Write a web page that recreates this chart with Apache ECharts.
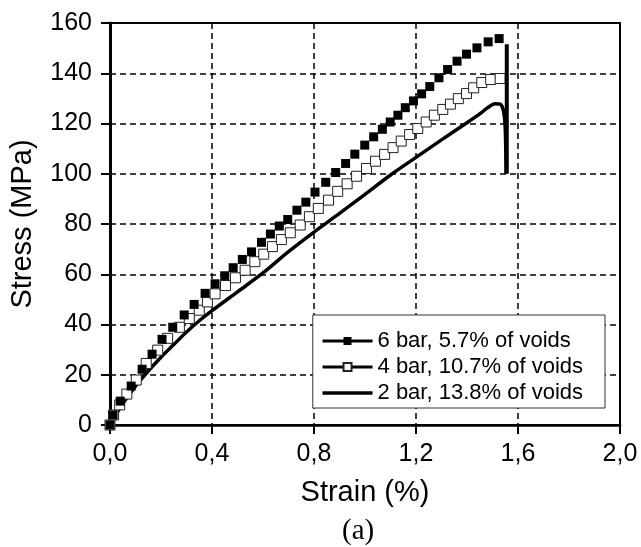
<!DOCTYPE html>
<html>
<head>
<meta charset="utf-8">
<script src="https://cdn.jsdelivr.net/npm/echarts@6/dist/echarts.min.js"></script>
<style>html,body{margin:0;padding:0;background:#fff;}#c{width:641px;height:547px;}</style>
</head>
<body>
<div id="c"></div>
<script>
// ---- data (strain %, stress MPa) ----
const seriesNames = ['6 bar, 5.7% of voids', '4 bar, 10.7% of voids', '2 bar, 13.8% of voids'];
const xTickLabels = ['0,0', '0,4', '0,8', '1,2', '1,6', '2,0'];
const yTickLabels = ['0', '20', '40', '60', '80', '100', '120', '140', '160'];

const strain6 = [0, 0.012, 0.040, 0.083, 0.126, 0.165, 0.204, 0.246, 0.291, 0.330, 0.373, 0.412, 0.450, 0.483, 0.519, 0.555, 0.594, 0.629, 0.664, 0.697, 0.733, 0.768, 0.804, 0.846, 0.885, 0.924, 0.960, 0.999, 1.034, 1.068, 1.099, 1.129, 1.158, 1.190, 1.222, 1.254, 1.290, 1.324, 1.361, 1.398, 1.439, 1.483, 1.526];
const stress6 = [0, 4.0, 9.5, 15.5, 22.2, 28.2, 34.1, 38.9, 43.8, 48.0, 52.4, 56.2, 59.4, 62.6, 65.9, 68.9, 72.7, 76.0, 79.2, 81.8, 85.5, 88.7, 92.7, 96.6, 100.5, 104.1, 107.8, 111.4, 114.7, 117.7, 120.6, 123.3, 126.3, 129.0, 131.8, 134.7, 138.2, 141.5, 144.8, 147.6, 150.1, 152.5, 153.8];

const strain4 = [0, 0.014, 0.038, 0.066, 0.103, 0.142, 0.187, 0.226, 0.272, 0.311, 0.350, 0.382, 0.412, 0.453, 0.492, 0.530, 0.568, 0.603, 0.637, 0.672, 0.707, 0.746, 0.782, 0.817, 0.857, 0.893, 0.930, 0.967, 1.006, 1.041, 1.077, 1.110, 1.142, 1.175, 1.207, 1.240, 1.272, 1.305, 1.335, 1.366, 1.398, 1.426, 1.458, 1.493, 1.530];
const stress4 = [0, 4.0, 8.0, 12.3, 17.9, 24.5, 29.8, 34.5, 38.9, 42.4, 45.7, 49.0, 52.2, 55.5, 58.6, 61.6, 65.0, 68.0, 71.0, 73.8, 76.5, 79.6, 82.9, 86.2, 89.5, 93.0, 96.0, 99.0, 102.1, 105.0, 107.7, 110.4, 113.0, 115.6, 118.0, 120.6, 123.3, 125.6, 127.7, 129.9, 131.9, 134.2, 136.3, 137.5, 137.9];

const strain2 = [0, 0.05, 0.10, 0.15, 0.20, 0.25, 0.30, 0.35, 0.40, 0.50, 0.60, 0.70, 0.80, 0.90, 1.00, 1.10, 1.20, 1.30, 1.40, 1.45, 1.48, 1.51, 1.53, 1.543, 1.550, 1.553];
const stress2 = [0, 8.5, 15.5, 21.5, 27.0, 32.0, 37.0, 41.5, 45.5, 53.0, 60.5, 69.0, 76.8, 84.2, 91.8, 99.5, 106.5, 113.5, 120.3, 123.8, 126.2, 127.9, 127.7, 125.0, 118.0, 100.0];

// failure drop (specimens break at ~1.556 % strain)
const failStrain = [1.556, 1.556];
const failStress = [151.5, 100];

const pairs = (xs, ys) => xs.map((x, i) => [x, ys[i]]);

const FONT = '"Liberation Sans", Arial, sans-serif';
const chart = echarts.init(document.getElementById('c'), null, { renderer: 'canvas' });
chart.setOption({
  animation: false,
  backgroundColor: '#fff',
  grid: { left: 107, right: 21, top: 23, bottom: 122, show: true, borderColor: '#000', borderWidth: 2, backgroundColor: 'transparent' },
  xAxis: {
    type: 'value', min: 0, max: 2.0, interval: 0.4,
    name: 'Strain (%)', nameLocation: 'middle', nameGap: 53,
    nameTextStyle: { fontFamily: FONT, fontSize: 29, color: '#000' },
    axisLine: { show: true, onZero: false, lineStyle: { color: '#000', width: 2.5 } },
    axisTick: { show: true, length: 9, lineStyle: { color: '#000', width: 2 } },
    axisLabel: { fontFamily: FONT, fontSize: 25, color: '#000', margin: 17,
      formatter: (v) => xTickLabels[Math.round(v / 0.4)] },
    splitLine: { show: true, lineStyle: { color: '#000', width: 1.5, type: [6, 4] } }
  },
  yAxis: {
    type: 'value', min: 0, max: 160, interval: 20,
    name: 'Stress (MPa)', nameLocation: 'middle', nameGap: 73,
    nameTextStyle: { fontFamily: FONT, fontSize: 29, color: '#000' },
    axisLine: { show: true, onZero: false, lineStyle: { color: '#000', width: 3 } },
    axisTick: { show: true, length: 9, lineStyle: { color: '#000', width: 2 } },
    axisLabel: { fontFamily: FONT, fontSize: 25, color: '#000', margin: 18,
      formatter: (v) => yTickLabels[Math.round(v / 20)] },
    splitLine: { show: true, lineStyle: { color: '#000', width: 1.5, type: [6, 4] } }
  },
  legend: {
    orient: 'vertical', right: 36, top: 315,
    backgroundColor: '#fff', borderColor: '#333', borderWidth: 1,
    padding: [15, 22, 4, 8], itemGap: 4, itemWidth: 50, itemHeight: 10,
    textStyle: { fontFamily: FONT, fontSize: 22, color: '#000', lineHeight: 22 },
    data: [
      { name: seriesNames[0], lineStyle: { color: '#000', width: 3, opacity: 1 } },
      { name: seriesNames[1], lineStyle: { color: '#000', width: 3, opacity: 1 } },
      { name: seriesNames[2], lineStyle: { color: '#000', width: 3.5, opacity: 1 }, itemStyle: { opacity: 0 } }
    ]
  },
  series: [
    {
      name: seriesNames[0], type: 'line', data: pairs(strain6, stress6),
      symbol: 'rect', symbolSize: 9, showAllSymbol: true, z: 4,
      lineStyle: { color: 'rgba(0,0,0,0)', width: 3 },
      itemStyle: { color: '#000', borderColor: '#000', borderWidth: 0 }
    },
    {
      name: seriesNames[1], type: 'line', data: pairs(strain4, stress4),
      symbol: 'rect', symbolSize: 10, showAllSymbol: true, z: 3,
      lineStyle: { color: 'rgba(0,0,0,0)', width: 3 },
      itemStyle: { color: '#fff', borderColor: '#222', borderWidth: 1 }
    },
    {
      name: seriesNames[2], type: 'line', data: pairs(strain2, stress2),
      symbol: 'none', smooth: 0.3, z: 2,
      lineStyle: { color: '#000', width: 3.5 },
      itemStyle: { color: '#000' }
    },
    {
      name: 'failure', type: 'line', data: pairs(failStrain, failStress),
      symbol: 'none', z: 5,
      lineStyle: { color: '#000', width: 4 }
    }
  ],
  graphic: [
    { type: 'text', left: 342, top: 517, style: { text: '(a)', fontFamily: '"Liberation Serif", "Times New Roman", serif', fontSize: 29, fill: '#000' } }
  ]
});
</script>
</body>
</html>
